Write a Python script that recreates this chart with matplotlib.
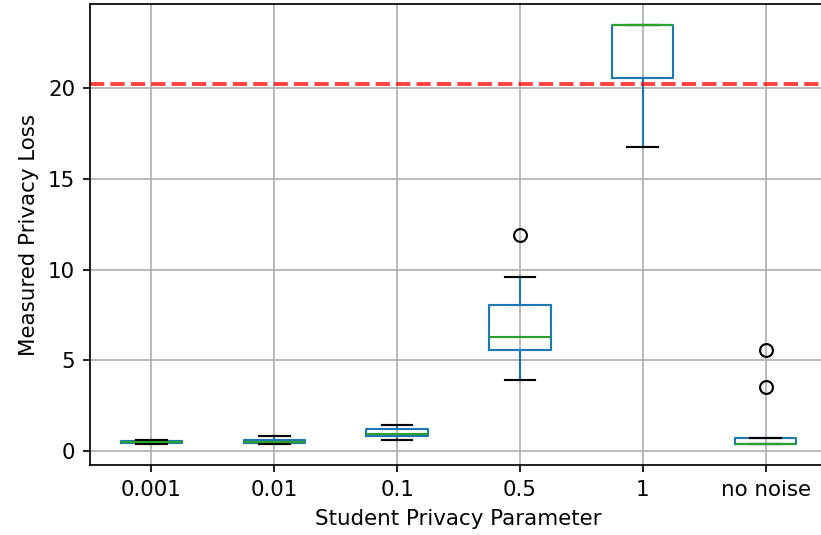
import numpy as np
import matplotlib
matplotlib.use('Agg')
import matplotlib.pyplot as plt

# values
labels = ['0.001', '0.01', '0.1', '0.5', '1', 'no noise']
whislo = [0.38, 0.39, 0.61, 3.91, 16.75, 0.39]
q1 = [0.48, 0.46, 0.84, 5.56, 20.55, 0.39]
med = [0.53, 0.53, 0.97, 6.28, 23.47, 0.39]
q3 = [0.58, 0.64, 1.21, 8.04, 23.47, 0.75]
whishi = [0.62, 0.86, 1.45, 9.59, 23.47, 0.75]
fliers = [[], [], [], [11.9], [], [3.53, 5.56]]
threshold = 20.2

stats = []
for i in range(len(labels)):
    stats.append({'label': labels[i], 'whislo': whislo[i], 'q1': q1[i], 'med': med[i],
                  'q3': q3[i], 'whishi': whishi[i], 'fliers': fliers[i]})

DPI = 154
fig = plt.figure(figsize=(821 / DPI, 535 / DPI), dpi=DPI)
# the reference is cropped: the right spine sits just past the image edge
ax = fig.add_axes([90 / 821, 70 / 535, 737 / 821, 461 / 535])

ax.bxp(stats, widths=0.5,
       boxprops=dict(color='C0'),
       whiskerprops=dict(color='C0'),
       capprops=dict(color='k'),
       medianprops=dict(color='C2'),
       flierprops=dict(marker='o', markerfacecolor='none', markeredgecolor='k'))

ax.axhline(threshold, color='red', linestyle='--', linewidth=1.8, alpha=0.75)

ax.grid(True)
ax.set_axisbelow(True)
ax.set_ylim(-0.75, 24.6)
ax.set_yticks([0, 5, 10, 15, 20])
ax.set_xlabel('Student Privacy Parameter')
ax.set_ylabel('Measured Privacy Loss')

fig.savefig('out.png', dpi=DPI)
